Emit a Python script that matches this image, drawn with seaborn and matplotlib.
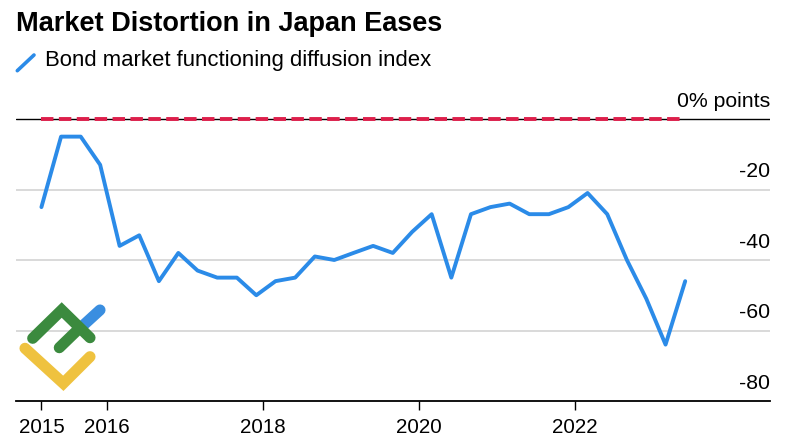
import matplotlib
matplotlib.use("Agg")
import matplotlib.pyplot as plt
from matplotlib.lines import Line2D
import seaborn as sns
import pandas as pd

# BOJ bond market survey, quarterly (Feb, May, Aug, Nov)
dates = pd.date_range("2015-02-28", periods=34, freq="3ME")
diffusion_index = [-25, -5, -5, -13, -36, -33, -46, -38, -43, -45, -45, -50,
                   -46, -45, -39, -40, -38, -36, -38, -32, -27, -45, -27, -25,
                   -24, -27, -27, -25, -21, -27, -40, -51, -64, -46]

y_ticks = [0, -20, -40, -60, -80]
y_labels = ["0% points", "-20", "-40", "-60", "-80"]
x_ticks = [dates[0], pd.Timestamp("2016-01-01"), pd.Timestamp("2018-01-01"),
           pd.Timestamp("2020-01-01"), pd.Timestamp("2022-01-01")]
x_labels = ["2015", "2016", "2018", "2020", "2022"]

df = pd.DataFrame({"date": dates, "di": diffusion_index})

BLUE = "#2b8be8"
RED = "#dd1f4b"

sns.set_style("white")
plt.rcParams["font.family"] = ["Liberation Sans", "DejaVu Sans"]
plt.rcParams["text.color"] = "black"
plt.rcParams["xtick.color"] = "black"

W, H = 810, 445
fig = plt.figure(figsize=(8.1, 4.45), dpi=100)
ax = fig.add_axes([16 / W, 1 - 401 / H, (770 - 16) / W, (401 - 109) / H])

# grid + zero line
for t in y_ticks[1:-1]:
    ax.axhline(t, color="#d3d3d3", lw=1.2, zorder=0)
ax.axhline(0, color="black", lw=1.0, zorder=1)
ax.hlines(0, df["date"].min(), df["date"].max(), color=RED, lw=2.8,
          linestyles=(0, (3.2, 1.4)), zorder=2)

sns.lineplot(data=df, x="date", y="di", color=BLUE, lw=2.8, ax=ax, zorder=3)

ax.set_ylim(-80, 10 / 3.525)
ax.set_xlim(pd.Timestamp("2014-11-01"), pd.Timestamp("2024-07-01"))
ax.set_xlabel("")
ax.set_ylabel("")
ax.set_yticks([])
ax.set_xticks(x_ticks)
ax.set_xticklabels(x_labels, fontsize=14.8, color="black")
ax.tick_params(axis="x", length=6.2, width=1, color="black", pad=6.3, bottom=True)

for s in ["top", "left", "right"]:
    ax.spines[s].set_visible(False)
ax.spines["bottom"].set_color("black")
ax.spines["bottom"].set_linewidth(1.3)

for t, lab in zip(y_ticks, y_labels):
    ax.annotate(lab, xy=(1.0, t), xycoords=("axes fraction", "data"),
                xytext=(0, 8.8), textcoords="offset points",
                ha="right", va="baseline", fontsize=15.3, color="black")

# title and legend
fig.text(16 / W, 1 - 30.7 / H, "Market Distortion in Japan Eases",
         fontsize=19.5, fontweight="bold", va="baseline", ha="left", color="black")
fig.add_artist(Line2D([17.3 / W, 34 / W], [1 - 70.7 / H, 1 - 55 / H],
                      color=BLUE, lw=2.6, transform=fig.transFigure))
fig.text(45 / W, 1 - 65.7 / H, "Bond market functioning diffusion index",
         fontsize=15.9, va="baseline", ha="left", color="black")

# watermark logo
logo = [
    ([81.7, 100], [326.7, 310], "#3a8ee0"),
    ([32.7, 61.7, 90], [338.3, 310, 337.7], "#3b8a3e"),
    ([59.3, 78.3], [347.7, 329.3], "#3b8a3e"),
    ([25, 63.3, 90], [348.3, 383.3, 356.7], "#efc23f"),
]
for xs, ys, c in logo:
    fig.add_artist(Line2D([x / W for x in xs], [1 - y / H for y in ys],
                          color=c, lw=8, solid_capstyle="round",
                          solid_joinstyle="miter", transform=fig.transFigure,
                          zorder=5))

fig.savefig("out.png", dpi=100)
